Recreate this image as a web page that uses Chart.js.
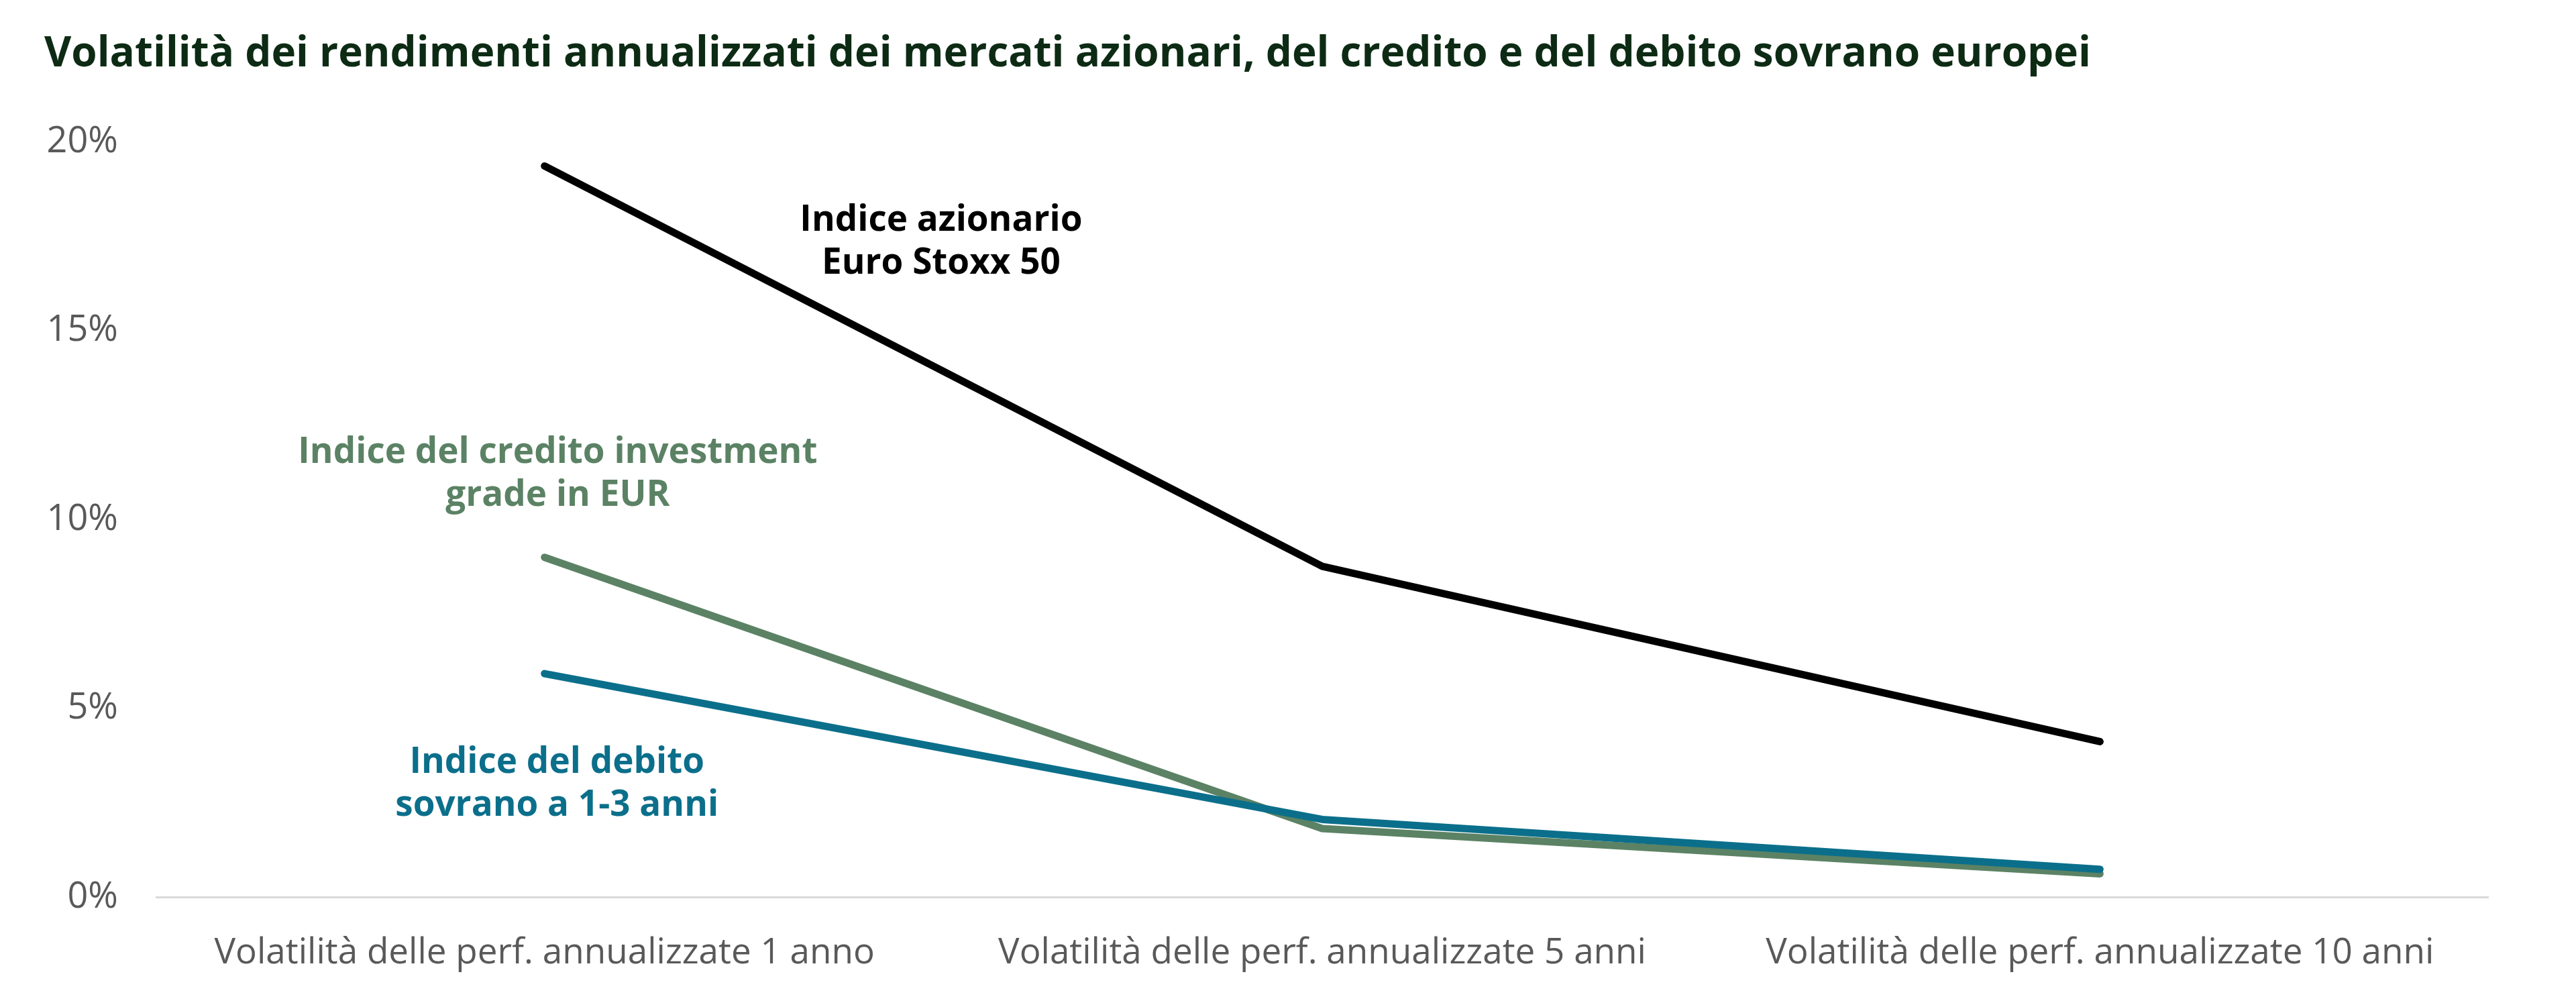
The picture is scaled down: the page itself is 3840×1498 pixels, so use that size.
<!DOCTYPE html>
<html>
<head>
<meta charset="utf-8">
<script src="https://cdn.jsdelivr.net/npm/chart.js@4.4.1/dist/chart.umd.min.js"></script>
<style>
  html, body { margin: 0; padding: 0; background: #fff; }
  #wrap { width: 3840px; height: 1498px; position: relative; }
</style>
</head>
<body>
<div id="wrap"><canvas id="chartVol"></canvas></div>
<script>
const categorie = [
  'Volatilità delle perf. annualizzate 1 anno',
  'Volatilità delle perf. annualizzate 5 anni',
  'Volatilità delle perf. annualizzate 10 anni'
];
const azionario = [19.36, 8.76, 4.12];
const credito = [9.0, 1.82, 0.62];
const sovrano = [5.92, 2.06, 0.74];
const yTicks = [0, 5, 10, 15, 20];

// etichette delle serie: [testo, colore, posizione categoria, valore]
const etichette = [
  [['Indice azionario', 'Euro Stoxx 50'], '#000000', 0.51, 17.35],
  [['Indice del credito investment', 'grade in EUR'], '#5b8264', 0.017, 11.2],
  [['Indice del debito', 'sovrano a 1-3 anni'], '#0b6f8b', 0.016, 3.0]
];

const labelPlugin = {
  id: 'labelSerie',
  afterDatasetsDraw(chart) {
    const { ctx, scales: { x, y } } = chart;
    ctx.save();
    ctx.font = 'bold 53px "Open Sans"';
    ctx.textAlign = 'center';
    ctx.textBaseline = 'middle';
    etichette.forEach(([righe, colore, cx, cy]) => {
      const px = x.getPixelForValue(cx);
      const py = y.getPixelForValue(cy);
      ctx.fillStyle = colore;
      righe.forEach((r, i) => {
        ctx.fillText(r, px, py + (i - (righe.length - 1) / 2) * 64);
      });
    });
    ctx.restore();
  }
};

document.addEventListener('DOMContentLoaded', function () {
  const ctx = document.getElementById('chartVol').getContext('2d');
  new Chart(ctx, {
    type: 'line',
    data: {
      labels: categorie,
      datasets: [
        { label: 'Indice azionario Euro Stoxx 50', data: azionario, borderColor: '#000000', order: 1 },
        { label: 'Indice del credito investment grade in EUR', data: credito, borderColor: '#5b8264', order: 3 },
        { label: 'Indice del debito sovrano a 1-3 anni', data: sovrano, borderColor: '#0b6f8b', order: 2 }
      ]
    },
    options: {
      responsive: true,
      maintainAspectRatio: false,
      devicePixelRatio: 1,
      animation: false,
      elements: {
        line: { borderWidth: 11, borderCapStyle: 'round', borderJoinStyle: 'round', tension: 0 },
        point: { radius: 0, hoverRadius: 0 }
      },
      layout: { padding: { left: 66, right: 130, top: 0, bottom: 1 } },
      plugins: {
        legend: { display: false },
        tooltip: { enabled: false },
        title: {
          display: true,
          text: 'Volatilità dei rendimenti annualizzati dei mercati azionari, del credito e del debito sovrano europei',
          align: 'start',
          color: '#0d2b14',
          font: { family: '"Open Sans"', size: 62, weight: 'bold', lineHeight: 1.2 },
          padding: { top: 44, bottom: 93 }
        }
      },
      scales: {
        x: {
          offset: true,
          grid: { display: false },
          border: { display: false },
          ticks: {
            color: '#595959',
            padding: 44,
            maxRotation: 0,
            font: { family: '"Open Sans"', size: 53, lineHeight: 1.2 }
          }
        },
        y: {
          min: 0,
          max: 20,
          afterFit(scale) { scale.width = 166; },
          afterBuildTicks(scale) { scale.ticks = yTicks.map(v => ({ value: v })); },
          border: { display: false },
          grid: {
            drawTicks: false,
            lineWidth: 3,
            color: c => (c.tick && c.tick.value === 0 ? '#d9d9d9' : 'rgba(0,0,0,0)')
          },
          ticks: {
            color: '#595959',
            padding: 56,
            font: { family: '"Open Sans"', size: 54, lineHeight: 1.2 },
            callback: v => v + '%'
          }
        }
      }
    },
    plugins: [labelPlugin]
  });
});
</script>
</body>
</html>
